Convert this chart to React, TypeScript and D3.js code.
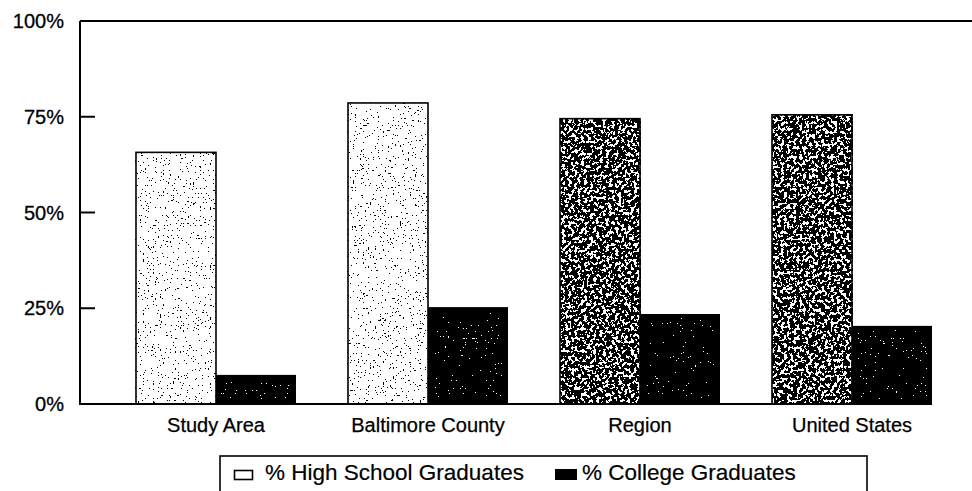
import React from "react";
import * as d3 from "d3";

const categories = ["Study Area", "Baltimore County", "Region", "United States"];
const seriesNames = ["% High School Graduates", "% College Graduates"];
const highSchool = [65.7, 78.6, 74.5, 75.5];
const college = [7.6, 25.3, 23.5, 20.4];
const yTicks = [0, 25, 50, 75, 100];
const yTickLabels = ["0%", "25%", "50%", "75%", "100%"];

const W = 972;
const H = 491;
const FONT = "'Liberation Sans', Arial, Helvetica, sans-serif";

// visual texture per category for the high-school bars (scan density)
const hsTexture = ["speckSparse", "speckSparse", "speckDense", "speckDense"];

export default function App() {
  const left = 80;
  const top = 21;
  const bottom = 404;
  const y = d3.scaleLinear().domain([0, 100]).range([bottom, top]);
  const x0 = d3
    .scaleBand<string>()
    .domain(categories)
    .range([110, 958])
    .paddingInner(0.2453)
    .paddingOuter(0.1226);
  const x1 = d3
    .scaleBand<string>()
    .domain(seriesNames)
    .range([0, x0.bandwidth()])
    .padding(0);

  const tableSparse = Array.from({ length: 20 }, (_, i) => (i >= 14 ? 1 : 0)).join(" ");
  const tableDense = Array.from({ length: 20 }, (_, i) => (i >= 9 ? 1 : 0)).join(" ");
  const tableWhite = Array.from({ length: 20 }, (_, i) => (i >= 15 ? 1 : 0)).join(" ");

  return (
    <svg
      width={W}
      height={H}
      viewBox={`0 0 ${W} ${H}`}
      style={{ position: "absolute", left: 0, top: 0, background: "#fff" }}
      fontFamily={FONT}
    >
      <defs>
        <filter id="speckSparse" x="0" y="0" width="1" height="1" filterUnits="objectBoundingBox">
          <feTurbulence type="fractalNoise" baseFrequency="0.6" numOctaves="2" seed="4" />
          <feColorMatrix type="matrix" values="0 0 0 0 0  0 0 0 0 0  0 0 0 0 0  1 0 0 0 0" />
          <feComponentTransfer>
            <feFuncA type="discrete" tableValues={tableSparse} />
          </feComponentTransfer>
        </filter>
        <filter id="speckDense" x="0" y="0" width="1" height="1" filterUnits="objectBoundingBox">
          <feTurbulence type="fractalNoise" baseFrequency="0.32" numOctaves="3" seed="9" />
          <feColorMatrix type="matrix" values="0 0 0 0 0  0 0 0 0 0  0 0 0 0 0  1 0 0 0 0" />
          <feComponentTransfer>
            <feFuncA type="discrete" tableValues={tableDense} />
          </feComponentTransfer>
        </filter>
        <filter id="speckWhite" x="0" y="0" width="1" height="1" filterUnits="objectBoundingBox">
          <feTurbulence type="fractalNoise" baseFrequency="0.6" numOctaves="2" seed="2" />
          <feColorMatrix type="matrix" values="0 0 0 0 1  0 0 0 0 1  0 0 0 0 1  1 0 0 0 0" />
          <feComponentTransfer>
            <feFuncA type="discrete" tableValues={tableWhite} />
          </feComponentTransfer>
        </filter>
      </defs>

      {/* bars */}
      {categories.map((c, i) => {
        const gx = x0(c) ?? 0;
        const hx = gx + (x1(seriesNames[0]) ?? 0);
        const cx = gx + (x1(seriesNames[1]) ?? 0);
        const bw = x1.bandwidth();
        const hy = y(highSchool[i]);
        const cy = y(college[i]);
        return (
          <g key={c}>
            <rect x={hx} y={hy} width={bw} height={bottom - hy} fill="#fff" />
            <rect x={hx} y={hy} width={bw} height={bottom - hy} fill="#000" filter={`url(#${hsTexture[i]})`} />
            <rect x={hx} y={hy} width={bw} height={bottom - hy} fill="none" stroke="#000" strokeWidth={1.6} />
            <rect x={cx} y={cy} width={bw} height={bottom - cy} fill="#000" />
            <rect x={cx + 6} y={cy + 5} width={bw - 12} height={Math.max(0, bottom - cy - 10)} fill="#fff" filter="url(#speckWhite)" />
          </g>
        );
      })}

      {/* frame */}
      <line x1={left} x2={W} y1={top} y2={top} stroke="#000" strokeWidth={2} />
      <line x1={left} x2={left} y1={top} y2={bottom + 1} stroke="#000" strokeWidth={2} />
      <line x1={left} x2={932} y1={bottom} y2={bottom} stroke="#000" strokeWidth={2} />

      {/* y ticks */}
      {yTicks.map((t, i) => (
        <g key={t}>
          <line x1={left} x2={left + 15} y1={y(t)} y2={y(t)} stroke="#000" strokeWidth={2} />
          <text x={64} y={y(t) + 7} textAnchor="end" fontSize={20} fill="#000" stroke="#000" strokeWidth={0.3}>
            {yTickLabels[i]}
          </text>
        </g>
      ))}

      {/* category labels */}
      {categories.map((c) => (
        <text
          key={c}
          x={(x0(c) ?? 0) + x0.bandwidth() / 2}
          y={432}
          textAnchor="middle"
          fontSize={20}
          fill="#000"
          stroke="#000"
          strokeWidth={0.25}
        >
          {c}
        </text>
      ))}

      {/* legend */}
      <rect x={220} y={456} width={647} height={60} fill="none" stroke="#000" strokeWidth={1.6} />
      <rect x={234.5} y={470.5} width={18} height={9} fill="#fff" stroke="#000" strokeWidth={1.6} />
      <text x={265} y={480} fontSize={22.5} fill="#000" stroke="#000" strokeWidth={0.2}>
        {seriesNames[0]}
      </text>
      <rect x={555} y={469} width={22} height={11} fill="#000" />
      <text x={582} y={480} fontSize={22.5} fill="#000" stroke="#000" strokeWidth={0.2}>
        {seriesNames[1]}
      </text>
    </svg>
  );
}
